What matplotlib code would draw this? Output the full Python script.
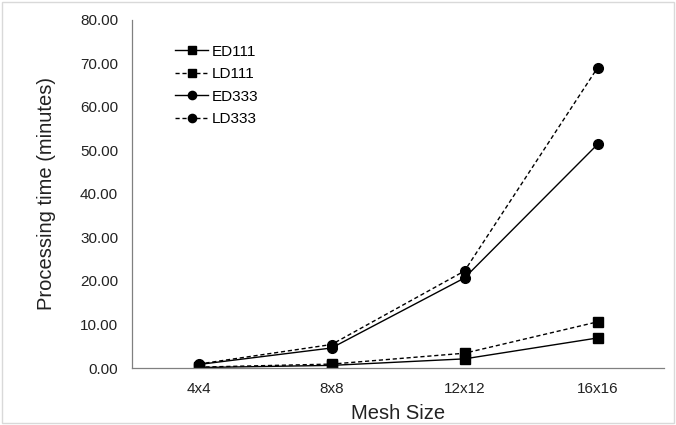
import matplotlib
matplotlib.use("Agg")
import matplotlib.pyplot as plt
from matplotlib.patches import Rectangle

plt.rcParams['font.family'] = ['Liberation Sans', 'DejaVu Sans']

mesh_sizes = ["4x4", "8x8", "12x12", "16x16"]
ed111 = [0.1, 0.6, 2.1, 6.9]
ld111 = [0.2, 0.9, 3.4, 10.6]
ed333 = [0.8, 4.6, 20.7, 51.4]
ld333 = [0.9, 5.4, 22.3, 69.0]
y_ticks = [0, 10, 20, 30, 40, 50, 60, 70, 80]

fig = plt.figure(figsize=(6.76, 4.25), dpi=100)
fig.patches.append(Rectangle((0.003, 0.005), 0.994, 0.99, transform=fig.transFigure,
                             fill=False, edgecolor="#d9d9d9", linewidth=1))
ax = fig.add_axes([132 / 676, 57 / 425, (664 - 132) / 676, (368 - 20) / 425])

x = list(range(len(mesh_sizes)))
series = [
    ("ED111", ed111, "-", "s"),
    ("LD111", ld111, "--", "s"),
    ("ED333", ed333, "-", "o"),
    ("LD333", ld333, "--", "o"),
]
for name, vals, ls, mk in series:
    ax.plot(x, vals, linestyle=ls, marker=mk, color="black", linewidth=1.0,
            markersize=7, label=name, dashes=(3, 2) if ls == "--" else (None, None))

ax.set_xlim(-0.5, 3.5)
ax.set_ylim(0, 80)
ax.set_xticks(x)
ax.set_xticklabels(mesh_sizes)
ax.set_yticks(y_ticks)
ax.set_yticklabels([f"{v:.2f}" for v in y_ticks])
ax.tick_params(length=0, labelsize=11, colors="#222222")
ax.tick_params(axis="y", pad=10)
ax.tick_params(axis="x", pad=10)
for s in ["top", "right"]:
    ax.spines[s].set_visible(False)
for s in ["left", "bottom"]:
    ax.spines[s].set_color("#808080")
    ax.spines[s].set_linewidth(0.9)

ax.set_xlabel("Mesh Size", fontsize=14.5, color="#222222", labelpad=6)
ax.set_ylabel("Processing time (minutes)", fontsize=14.5, color="#222222", labelpad=17)

leg = ax.legend(loc="upper left", bbox_to_anchor=(161 / 676, 394 / 425),
                bbox_transform=fig.transFigure, frameon=False,
                fontsize=11, handlelength=2.2, handletextpad=0.2, labelspacing=0.55,
                markerscale=0.85)

fig.savefig("out.png", dpi=100)
